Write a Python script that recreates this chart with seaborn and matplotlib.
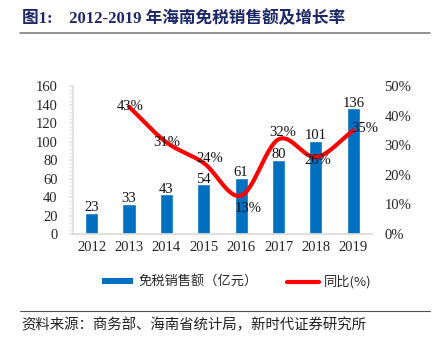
import numpy as np
import pandas as pd
import matplotlib
matplotlib.use("Agg")
import matplotlib.pyplot as plt
import seaborn as sns
from matplotlib.lines import Line2D
from matplotlib.patches import Patch
from matplotlib.ticker import MultipleLocator, FuncFormatter

years = ["2012", "2013", "2014", "2015", "2016", "2017", "2018", "2019"]
sales = [23, 33, 43, 54, 61, 80, 101, 136]
growth_years = ["2013", "2014", "2015", "2016", "2017", "2018", "2019"]
growth = [43, 31, 24, 13, 32, 26, 35]

title = "图1:    2012-2019 年海南免税销售额及增长率"
legend_bar = "免税销售额（亿元）"
legend_line = "同比(%)"
source = "资料来源：商务部、海南省统计局，新时代证券研究所"

sns.set_theme(style="white")
plt.rcParams['font.family'] = ['Liberation Serif', 'Noto Sans CJK SC', 'DejaVu Sans']

fig = plt.figure(figsize=(4.34, 3.51), dpi=100)
ax = fig.add_axes([0.168, 0.333, 0.689, 0.422])

df = pd.DataFrame({"year": years, "sales": sales})
sns.barplot(data=df, x="year", y="sales", color="#0070C0", width=0.35,
            saturation=1, ax=ax)
ax.set_ylim(0, 160)
ax.set_xlim(-0.5, len(years) - 0.5)
ax.yaxis.set_major_locator(MultipleLocator(20))
ax.set_xlabel("")
ax.set_ylabel("")
for s in ["top", "right"]:
    ax.spines[s].set_visible(False)
ax.spines["left"].set_color("#e0e0e0")
ax.spines["bottom"].set_color("#d9d9d9")
ax.yaxis.set_minor_locator(MultipleLocator(4))
ax.tick_params(axis="y", which="minor", length=3, color="#e6e6e6", left=True)
ax.tick_params(axis="y", which="major", length=3, color="#e6e6e6", left=True, labelsize=10.5, pad=8)
ax.tick_params(axis="x", length=0, labelsize=10.5, pad=5)

for i, v in enumerate(sales):
    ax.text(i, v - 1.5, str(v), ha="center", va="bottom", fontsize=10.5,
            color="#111111", family="Liberation Serif")

ax2 = ax.twinx()
ax2.set_ylim(0, 50)
ax2.yaxis.set_major_locator(MultipleLocator(10))
ax2.yaxis.set_major_formatter(FuncFormatter(lambda v, p: f"{v:.0f}%"))
for s in ["top", "right", "left", "bottom"]:
    ax2.spines[s].set_visible(False)
ax2.tick_params(axis="y", length=0, labelsize=10.5, pad=9)

# smooth (Catmull-Rom) line through the growth points, like Excel's smoothed line
xs = np.array([years.index(y) for y in growth_years], dtype=float)
ys = np.array(growth, dtype=float)
px = np.concatenate([[2 * xs[0] - xs[1]], xs, [2 * xs[-1] - xs[-2]]])
py = np.concatenate([[2 * ys[0] - ys[1]], ys, [2 * ys[-1] - ys[-2]]])
cx, cy = [], []
t = np.linspace(0, 1, 30)
for k in range(1, len(px) - 2):
    p0, p1, p2, p3 = [np.array([px[j], py[j]]) for j in (k - 1, k, k + 1, k + 2)]
    for tt in t:
        pt = 0.5 * ((2 * p1) + (-p0 + p2) * tt + (2 * p0 - 5 * p1 + 4 * p2 - p3) * tt ** 2
                    + (-p0 + 3 * p1 - 3 * p2 + p3) * tt ** 3)
        cx.append(pt[0]); cy.append(pt[1])
sns.lineplot(x=cx, y=cy, color="#FF0000", lw=3, ax=ax2, sort=False,
             estimator=None)

label_offsets = [(0.03, 0), (0.0, 0), (0.15, 1.6), (0.2, -4.3), (0.1, 2.4), (0.05, -1), (0.32, 0.5)]
for (x, y), (dx, dy) in zip(zip(xs, ys), label_offsets):
    ax2.text(x + dx, y + dy, f"{y:.0f}%", ha="center", va="center",
             fontsize=10.5, color="#111111", family="Liberation Serif")

handles = [Patch(facecolor="#0070C0", edgecolor="none"),
           Line2D([0], [0], color="#FF0000", lw=3)]
leg = fig.legend(handles, [legend_bar, legend_line], loc="center",
                 bbox_to_anchor=(0.545, 0.197), ncol=2, frameon=False,
                 prop={"family": ["Noto Sans CJK SC", "DejaVu Sans"], "size": 9.5},
                 handlelength=2.4, handleheight=0.3, columnspacing=2.2,
                 handletextpad=0.4)

fig.text(0.05, 0.948, title, ha="left", va="center", fontsize=12,
         fontweight="bold", color="#1b2766",
         family=["Liberation Serif", "Noto Sans CJK SC"])
fig.add_artist(Line2D([0.046, 0.99], [0.905, 0.905], color="#808080", lw=1.2))
fig.add_artist(Line2D([0.046, 0.99], [0.114, 0.114], color="#555555", lw=0.8))
fig.text(0.05, 0.074, source, ha="left", va="center", fontsize=10.4,
         color="#222222", family=["Noto Sans CJK SC", "DejaVu Sans"])

fig.savefig("out.png", dpi=100)
